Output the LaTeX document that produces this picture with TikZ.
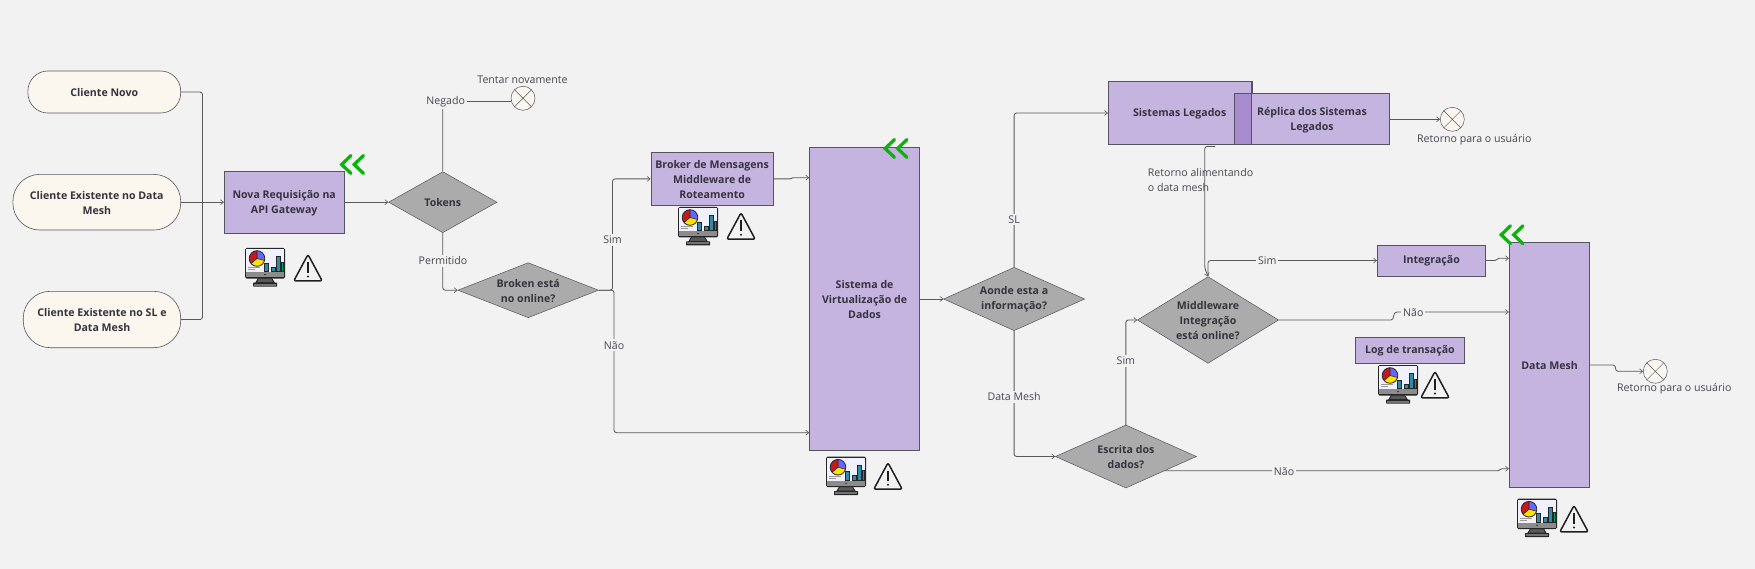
\documentclass[tikz,border=0pt]{standalone}
\usepackage{fontspec}
\setmainfont{Open Sans}
\usetikzlibrary{shapes.geometric,arrows.meta,calc}
\definecolor{pagebg}{HTML}{F2F2F2}
\definecolor{cream}{HTML}{FBF7EF}
\definecolor{lilac}{HTML}{C5B4E0}
\definecolor{lilacdark}{HTML}{A98CCF}
\definecolor{grayd}{HTML}{ABABAB}
\definecolor{edge}{HTML}{55555F}
\definecolor{wire}{HTML}{5A5A5A}
\definecolor{ink}{HTML}{35333D}
\definecolor{chev}{HTML}{0CB30C}
\pgfdeclarelayer{bg}
\pgfsetlayers{bg,main}
\tikzset{
  x=1pt,y=-1pt,
  lbl/.style={font=\fontsize{10.6}{15}\selectfont,text=ink!90!white,align=center,inner sep=2pt,yshift=-.6pt},
  masklbl/.style={lbl,fill=pagebg},
  boldtxt/.style={font=\fontsize{10.6}{15}\selectfont\bfseries,text=ink,align=center,inner sep=0pt,yshift=-.6pt},
  clientbox/.style={draw=edge,line width=.6pt,fill=cream,rounded corners=20pt,inner sep=0pt},
  procbox/.style={draw=edge,line width=.8pt,fill=lilac,inner sep=0pt},
  deci/.style={diamond,draw=edge,line width=.5pt,fill=grayd,inner sep=0pt,shape aspect=1},
  wirecirc/.style={circle,draw=edge,line width=.5pt,fill=cream,inner sep=0pt,minimum size=24pt},
  conn/.style={draw=wire,line width=.85pt,rounded corners=2.5pt},
  smooth wire/.style={draw=wire,line width=.85pt},
  arr/.style={conn,-{Straight Barb[length=3pt,width=5pt,line width=.6pt]}},
  arrs/.style={smooth wire,-{Straight Barb[length=3pt,width=5pt,line width=.6pt]}},
  chevron/.pic={
    \draw[chev,line width=3.3pt,miter limit=10,line cap=round] (11.5,1.5) -- (2.2,10.5) -- (11.5,19.5);
    \draw[chev,line width=3.3pt,miter limit=10,line cap=round] (24,1.5) -- (14.7,10.5) -- (24,19.5);
  },
  dashpic/.pic={
    % monitor, local size 40 x 38.5
    \fill[black!85] (13,30) -- (27,30) -- (30,35) -- (10,35) -- cycle;
    \fill[black!65] (14,30) -- (26,30) -- (28,34) -- (12,34) -- cycle;
    \fill[black!85,rounded corners=.5pt] (8,34.5) rectangle (32,38.5);
    \fill[black!55] (9,35.5) rectangle (31,37.5);
    \fill[black!85,rounded corners=1.5pt] (0,0) rectangle (40,30.5);
    \fill[white!94!blue] (1.2,1.2) rectangle (38.8,24);
    \fill[black!45] (1.2,24) rectangle (38.8,29.3);
    \fill[black] (20,26.6) circle (.7);
    % pie
    \fill[blue!60!white] (12,10.5) -- +(-90:7.8) arc[start angle=-90,end angle=15,radius=7.8] -- cycle;
    \fill[yellow!85!orange] (12,10.5) -- +(15:7.8) arc[start angle=15,end angle=140,radius=7.8] -- cycle;
    \fill[red!75!black!90] (12,10.5) -- +(140:7.8) arc[start angle=140,end angle=270,radius=7.8] -- cycle;
    \draw[black!85,line width=.8pt] (12,10.5) circle (7.8);
    \draw[black!85,line width=.6pt] (12,10.5) -- +(-90:7.8) (12,10.5) -- +(15:7.8) (12,10.5) -- +(140:7.8);
    % bars
    \foreach \xa/\ya in {19/15,26/19,31.5/8.5}{
      \fill[teal!85!blue!80] (\xa,\ya) rectangle ++(4,23.3-\ya);
      \draw[black!85,line width=.6pt] (\xa,\ya) rectangle (\xa+4,23.3);
    }
    \fill[teal!70!green] (36,14) rectangle (38.5,23.3);
    \draw[black!85,line width=.6pt] (35.8,14) rectangle (38.5,23.3);
    % text strokes
    \draw[black!40,line width=.9pt] (3,19.5) -- (15,19.5) (3,21.8) -- (10,21.8);
  },
  warnpic/.pic={
    % triangle, local size 30 x 28
    \draw[black!88,line width=1.5pt,line join=round,rounded corners=2pt] (15,.8) -- (29.2,27.2) -- (.8,27.2) -- cycle;
    \draw[black!88,line width=1.6pt] (15,8.5) -- (15,19);
    \fill[black!88] (15,22.8) circle (1.1);
  },
}
\begin{document}
\begin{tikzpicture}
\useasboundingbox (0,0) rectangle (1755,569);
\begin{pgfonlayer}{bg}
\fill[pagebg] (0,0) rectangle (1755,569);
\end{pgfonlayer}

% Clients
\node[clientbox,minimum width=152.8pt,minimum height=42pt] (c1) at (104.3,92) {};
\node[boldtxt] (c1t) at (104.3,92) {Cliente Novo};
\node[clientbox,rounded corners=27pt,minimum width=167.8pt,minimum height=55.7pt] (c2) at (96.8,202.2) {};
\node[boldtxt] (c2t) at (96.8,202.2) {Cliente Existente no Data\\Mesh};
\node[clientbox,rounded corners=27pt,minimum width=157.5pt,minimum height=56.4pt] (c3) at (102,319.5) {};
\node[boldtxt] (c3t) at (102,319.5) {Cliente Existente no SL e\\Data Mesh};
\coordinate (hub) at (202.5,202.2);

% Process boxes
\node[procbox,minimum width=119.7pt,minimum height=61.7pt] (nova) at (284.2,202.2) {};
\node[boldtxt] at (284.2,202.2) {Nova Requisição na\\API Gateway};
\node[procbox,minimum width=122.2pt,minimum height=52.3pt] (broker) at (712.1,178.9) {};
\node[boldtxt] at (712.1,179) {Broker de Mensagens\\Middleware de\\Roteamento};
\node[procbox,minimum width=110pt,minimum height=302.3pt] (sist) at (864.6,298.9) {};
\node[boldtxt] at (864.6,298.9) {Sistema de\\Virtualização de\\Dados};
\node[procbox,minimum width=143.4pt,minimum height=63.4pt] (leg) at (1180,113) {};
\node[boldtxt] at (1179.7,112.7) {Sistemas Legados};
\node[procbox,minimum width=154.3pt,minimum height=51pt] (rep) at (1311.9,119.2) {};
\node[draw=edge,line width=.8pt,fill=lilacdark,inner sep=0pt,minimum width=17pt,minimum height=51pt] (overlap) at (1243.2,119.2) {};
\draw[edge,line width=.8pt] (leg.north east) -- (overlap.north east);
\node[boldtxt] at (1312,119.7) {Réplica dos Sistemas\\Legados};
\node[procbox,minimum width=108.4pt,minimum height=31pt] (integ) at (1431.5,260.5) {};
\node[boldtxt] at (1431.5,260.5) {Integração};
\node[procbox,minimum width=108.3pt,minimum height=26.7pt] (logt) at (1409.9,350.3) {};
\node[boldtxt] at (1409.9,350) {Log de transação};
\node[procbox,minimum width=80.4pt,minimum height=245.4pt] (dm) at (1549.5,365) {};
\node[boldtxt] at (1549.5,365) {Data Mesh};

% Decisions
\node[deci,minimum width=108.4pt,minimum height=61pt] (tok) at (442.8,202.2) {};
\node[boldtxt] at (442.8,202.2) {Tokens};
\node[deci,minimum width=140.7pt,minimum height=55pt] (brok) at (528.2,290.2) {};
\node[boldtxt] at (528.2,290.2) {Broken está\\no online?};
\node[deci,minimum width=141pt,minimum height=63.4pt] (aon) at (1014.1,299) {};
\node[boldtxt] at (1014.1,299) {Aonde esta a\\informação?};
\node[deci,minimum width=141pt,minimum height=63pt] (esc) at (1125.9,456.5) {};
\node[boldtxt] at (1125.9,456.5) {Escrita dos\\dados?};
\node[deci,minimum width=141.2pt,minimum height=86.6pt] (mid) at (1208,320) {};
\node[boldtxt] at (1208,320) {Middleware\\Integração\\está online?};

% End circles
\node[wirecirc] (x1) at (523,98.3) {};
\node[wirecirc] (x2) at (1452.3,119.3) {};
\node[wirecirc] (x3) at (1655.3,371.3) {};
\foreach \c in {x1,x2,x3}{
  \draw[edge,line width=.5pt] (\c.45) -- (\c.225) (\c.135) -- (\c.315);
}

% Free labels
\node[lbl] (tn) at (522.5,79) {Tentar novamente};
\node[lbl] (ru1) at (1474.3,139) {Retorno para o usuário};
\node[lbl] (ru2) at (1674.3,388) {Retorno para o usuário};
\node[lbl,align=left,inner sep=0pt,anchor=west] (ret) at (1147.7,179.5) {Retorno alimentando\\o data mesh};

% Connector labels
\node[masklbl] (lneg) at (445.7,101) {Negado};
\node[masklbl] (lper) at (443,260) {Permitido};
\node[masklbl] (lsim1) at (612.5,239) {Sim};
\node[masklbl] (lnao1) at (614,344.7) {Não};
\node[masklbl] (lsl) at (1014.1,219) {SL};
\node[masklbl] (ldm) at (1014.1,396) {Data Mesh};
\node[masklbl] (lsim2) at (1125.9,360) {Sim};
\node[masklbl] (lnao2) at (1284,470.7) {Não};
\node[masklbl] (lsim3) at (1267.3,260.3) {Sim};
\node[masklbl] (lnao3) at (1413.3,312) {Não};

% Connectors
\begin{pgfonlayer}{bg}
\draw[conn] (c1.east) -| (hub);
\draw[conn] (c3.east) -| (hub);
\draw[arr] (c2.east) -- (nova.west);
\draw[arr] (nova.east) -- (tok.west);
\draw[conn] (tok.north) |- (x1.195);
\draw[arr] (tok.south) |- (brok.west);
\draw[arr] (brok.east) -| (lsim1.center) |- (broker.west);
\draw[arr] (brok.east) -| (lnao1.center) |- (sist.west |- 0,432.7);
\draw[arrs] (broker.east) -- (790,178.9) .. controls (792,178.9) and (791,177.7) .. (793,177.7) -- (sist.west |- 0,177.7);
\draw[arr] (sist.east |- aon.west) -- (aon.west);
\draw[arr] (aon.north) |- (leg.west);
\draw[arr] (aon.south) |- (esc.west);
\draw[arr] (esc.north) |- (mid.west);
\draw[arrs] (1162.5,470.7) -- (1498,470.7) .. controls (1501,470.7) and (1499,468.7) .. (1502,468.7) -- (dm.west |- 0,468.7);
\draw[arr] (mid.north) |- (integ.west);
\draw[arr] (1215,146.4) -- (1204.7,146.4) -- (1204.7,268) -- (mid.north);
\draw[arrs] (mid.east) -- (1391,320) .. controls (1395,320) and (1392,312) .. (1397,312) -- (dm.west |- 0,312);
\draw[arrs] (integ.east) -- (1495,260.5) .. controls (1498,260.5) and (1496,258.3) .. (1499,258.3) -- (dm.west |- 0,258.3);
\draw[arr] (rep.east |- x2.west) -- (x2.west);
\draw[arrs] (dm.east) -- (1613,365) .. controls (1617,365) and (1614,371.3) .. (1618,371.3) -- (x3.west);
\end{pgfonlayer}

% Icons
\pic at (245,248) {dashpic};
\pic at (293,253.7) {warnpic};
\pic at (678,207) {dashpic};
\pic at (726,212) {warnpic};
\pic at (826,456.7) {dashpic};
\pic at (873,462) {warnpic};
\pic at (1378,365) {dashpic};
\pic at (1420,370.7) {warnpic};
\pic at (1517,498.7) {dashpic};
\pic at (1559,504.7) {warnpic};

% Chevrons
\pic at (339.5,154) {chevron};
\pic at (883,138) {chevron};
\pic at (1499,224.3) {chevron};
\end{tikzpicture}
\end{document}
